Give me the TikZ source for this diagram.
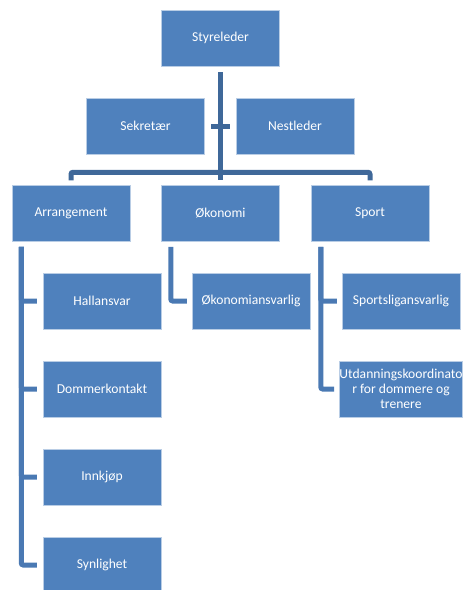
\documentclass[tikz,border=0pt]{standalone}
\usepackage{fontspec}
\setmainfont{Carlito}
\usetikzlibrary{calc}
\definecolor{boxblue}{HTML}{4F81BD}
\definecolor{boxedge}{HTML}{B9CDE5}
\definecolor{topline}{HTML}{3F6899}
\definecolor{subline}{HTML}{4A79B3}
\tikzset{
  orgbox/.style={rectangle, fill=boxblue, draw=boxedge, line width=0.5pt,
    minimum width=118pt, minimum height=56pt, inner sep=0pt,
    text=white, align=center, font=\fontsize{13.6}{15}\selectfont},
  topconn/.style={draw=topline, line width=5pt, rounded corners=2pt},
  subconn/.style={draw=subline, line width=5pt, rounded corners=2pt}
}
\begin{document}
\begin{tikzpicture}[x=1pt, y=-1pt]
\useasboundingbox (0,0) rectangle (463,590);
% nodes
\node[orgbox] (sty) at (220.5,38) {Styreleder};
\node[orgbox] (sek) at (145.5,126) {Sekretær};
\node[orgbox] (nes) at (295,126) {Nestleder};
\node[orgbox] (arr) at (71,213.5) {Arrangement};
\node[orgbox] (oko) at (220.5,213.5) {Økonomi};
\node[orgbox] (spo) at (370,213.5) {Sport};
\node[orgbox] (hal) at (102,301) {Hallansvar};
\node[orgbox] (dom) at (102,389) {Dommerkontakt};
\node[orgbox] (inn) at (102,477) {Innkjøp};
\node[orgbox] (syn) at (102,565) {Synlighet};
\node[orgbox] (okoa) at (251,301) {Økonomiansvarlig};
\node[orgbox] (spl) at (401,301) {Sportsligansvarlig};
\node[orgbox] (utd) at (401,389) {Utdanningskoordinato\\r for dommere og\\trenere};
% top connectors
\draw[topconn] ($(sty.south)+(0,6)$) -- ($(oko.north)+(0,-5)$);
\draw[topconn] ($(sek.east)+(6.5,0)$) -- ($(nes.west)+(-6,0)$);
\draw[topconn] ($(arr.north)+(0,-5)$) -- ($(arr.north)+(0,-13)$) -- ($(spo.north)+(0,-13)$) -- ($(spo.north)+(0,-5)$);
% sub connectors
\coordinate (arrv) at ($(arr.south west)+(9.5,5)$);
\coordinate (okov) at ($(oko.south west)+(9.5,5)$);
\coordinate (spov) at ($(spo.south west)+(10,5)$);
\foreach \c in {hal,dom,inn,syn}{
  \draw[subconn, shorten >=6pt] (arrv) |- (\c.west);
}
\draw[subconn, shorten >=5pt] (okov) |- (okoa.west);
\foreach \c in {spl,utd}{
  \draw[subconn, shorten >=5pt] (spov) |- (\c.west);
}
\end{tikzpicture}
\end{document}
